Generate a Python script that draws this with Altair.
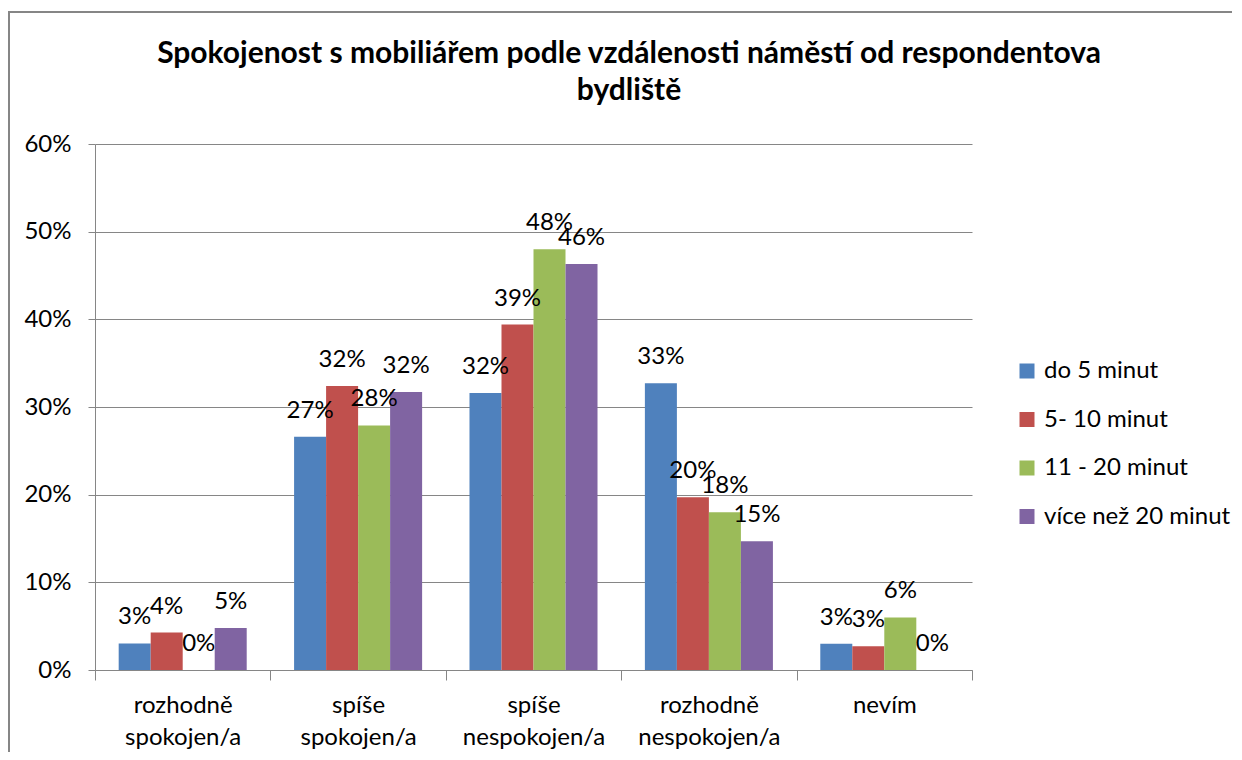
import altair as alt
import pandas as pd

categories = ["rozhodně spokojen/a", "spíše spokojen/a", "spíše nespokojen/a",
              "rozhodně nespokojen/a", "nevím"]
series = ["do 5 minut", "5- 10 minut", "11 - 20 minut", "více než 20 minut"]
colors = ["#4F81BD", "#C0504D", "#9BBB59", "#8064A2"]
title_lines = ["Spokojenost s mobiliářem podle vzdálenosti náměstí od respondentova", "bydliště"]

do5 = [0.0303, 0.266, 0.316, 0.327, 0.030]
m5_10 = [0.0427, 0.324, 0.394, 0.197, 0.027]
m11_20 = [0.0, 0.279, 0.480, 0.180, 0.060]
m20 = [0.048, 0.317, 0.463, 0.147, 0.0]

rows = []
for s, vals in zip(series, [do5, m5_10, m11_20, m20]):
    for c, v in zip(categories, vals):
        rows.append({"kategorie": c, "skupina": s, "hodnota": v})
df = pd.DataFrame(rows)

FONT = "Lato"
FS = 24

x = alt.X("kategorie:N", sort=categories,
          scale=alt.Scale(paddingInner=0, paddingOuter=0),
          axis=alt.Axis(title=None, labelExpr="split(datum.label, ' ')",
                        labelAngle=0, labelFontSize=FS, labelFont=FONT,
                        labelColor="#000000", labelLineHeight=32,
                        labelPadding=13, tickBand="extent", tickSize=10,
                        tickColor="#868686", domainColor="#868686",
                        labelBaseline="top"))
y = alt.Y("hodnota:Q",
          scale=alt.Scale(domain=[0, 0.6], nice=False),
          axis=alt.Axis(title=None, format=".0%", values=[0, 0.1, 0.2, 0.3, 0.4, 0.5, 0.6],
                        labelFontSize=FS, labelFont=FONT, labelColor="#000000",
                        labelPadding=17, tickSize=7, tickColor="#868686",
                        domainColor="#868686", gridColor="#868686", grid=True))
xoff = alt.XOffset("skupina:N", sort=series, scale=alt.Scale(paddingInner=0, paddingOuter=0.74))
color = alt.Color("skupina:N", sort=series,
                  scale=alt.Scale(domain=series, range=colors),
                  legend=alt.Legend(title=None, orient="none", legendX=920, legendY=215,
                                    labelFontSize=FS, labelFont=FONT, labelColor="#000000",
                                    symbolType="square", symbolSize=225, symbolStrokeWidth=0,
                                    rowPadding=24.5, labelOffset=5, padding=0, labelLimit=400))

bars = alt.Chart(df).mark_bar().encode(x=x, y=y, xOffset=xoff, color=color)
labels = alt.Chart(df).mark_text(fontSize=FS, font=FONT, color="#000000",
                                 baseline="middle", dy=-26).encode(
    x=alt.X("kategorie:N", sort=categories), y="hodnota:Q", xOffset=xoff,
    text=alt.Text("hodnota:Q", format=".0%"))

one = pd.DataFrame({"a": [0]})
border = alt.Chart(one).mark_rect(
    fill=None, stroke="#868686", strokeWidth=2).encode(
    x=alt.value(-86), x2=alt.value(1300), y=alt.value(-132), y2=alt.value(700))

title1 = alt.Chart(one).mark_text(fontSize=30, font=FONT, fontWeight="bold", color="#000000",
                                  align="center", baseline="alphabetic").encode(
    x=alt.value(534), y=alt.value(-81), text=alt.value(title_lines[0]))
title2 = alt.Chart(one).mark_text(fontSize=30, font=FONT, fontWeight="bold", color="#000000",
                                  align="center", baseline="alphabetic").encode(
    x=alt.value(534), y=alt.value(-44), text=alt.value(title_lines[1]))

chart = alt.layer(bars, labels, border, title1, title2).properties(
    width=877, height=526,
    padding={"left": 87, "top": 136, "right": 260, "bottom": 82},
    autosize=alt.AutoSizeParams(type="none"),
).configure_view(stroke=None).configure_axisY(gridWidth=1)

chart.save("out.html", embed_options={"renderer": "svg", "actions": False})
